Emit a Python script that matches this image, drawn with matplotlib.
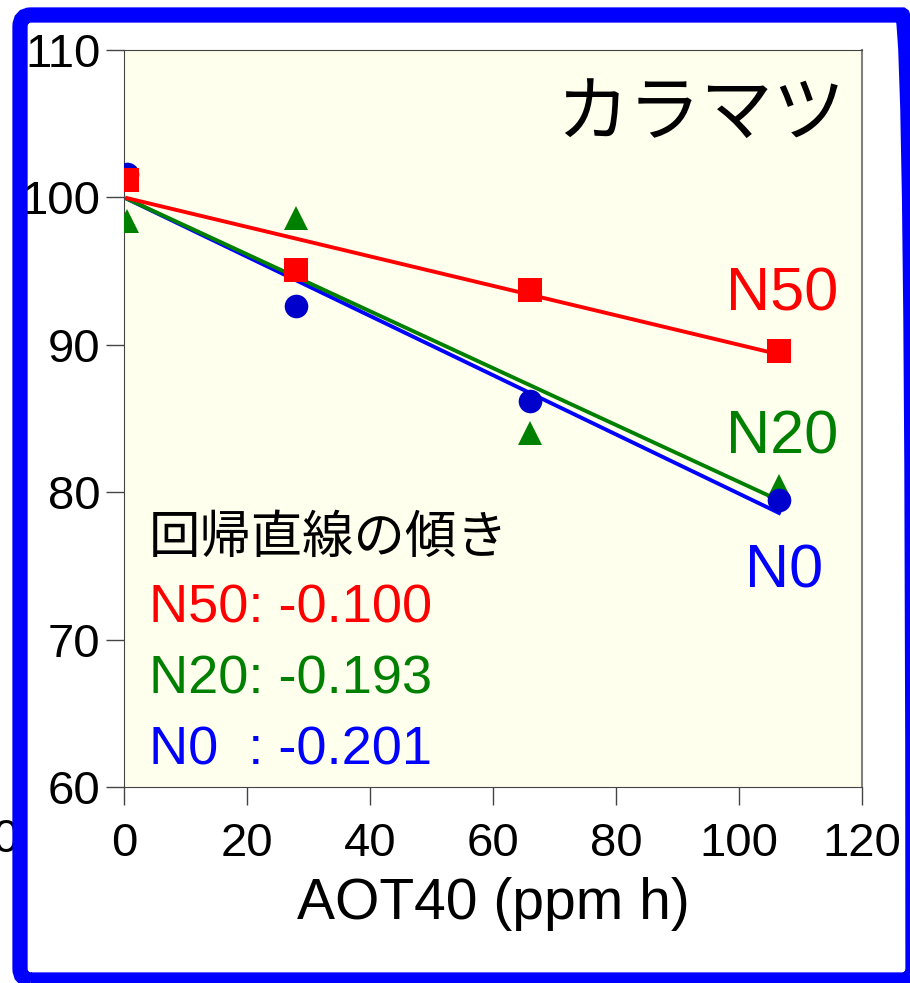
import numpy as np
import matplotlib
matplotlib.use("Agg")
from matplotlib import pyplot as plt
from matplotlib.patches import FancyBboxPatch

plt.rcParams['font.family'] = ['Liberation Sans', 'DejaVu Sans']
JP = ['Noto Sans CJK JP', 'DejaVu Sans']

# AOT40 (ppm h)
aot40 = [0.5, 28, 66, 106.5]

# 相対値 (%)
n0_vals = [101.6, 92.6, 86.2, 79.5]
n20_vals = [98.4, 98.6, 84.0, 80.4]
n50_vals = [101.2, 95.1, 93.7, 89.6]

# 回帰直線の傾き
slopes = {'N50': -0.100, 'N20': -0.193, 'N0': -0.201}

fig = plt.figure(figsize=(9.1, 9.83), dpi=100)
ax = fig.add_axes([124/910, 1 - 787/983, (862-124)/910, (787-50)/983])
ax.set_facecolor('#FFFFEE')

xs = np.array([aot40[0], aot40[-1]])
ax.plot(xs, 100 + slopes['N0'] * xs, color='#0000FF', lw=2.8, zorder=2)
ax.plot(xs, 100 + slopes['N20'] * xs, color='#008000', lw=2.8, zorder=2)
ax.plot(xs, 100 + slopes['N50'] * xs, color='#FF0000', lw=2.8, zorder=2)

# マーカー
ax.plot(aot40, n20_vals, '^', color='#008000', ms=17, mew=0, zorder=3)
ax.plot(aot40, n0_vals, 'o', color='#0000CC', ms=17, mew=0, zorder=4)
ax.plot(aot40, n50_vals, 's', color='#FF0000', ms=17, mew=0, zorder=5)

ax.set_xlim(0, 120)
ax.set_ylim(60, 110)
ax.set_xticks(np.arange(0, 121, 20))
ax.set_yticks(np.arange(60, 111, 10))
ax.tick_params(axis='y', direction='out', length=13, width=1, color='#444444',
               labelsize=34, pad=4)
ax.tick_params(axis='x', direction='out', length=13, width=1, color='#444444',
               labelsize=34, pad=12)
for s in ['left', 'bottom', 'top']:
    ax.spines[s].set_color('#444444')
ax.spines['right'].set_color('#808080')
ax.spines['right'].set_linewidth(1.5)

ax.set_xlabel('AOT40 (ppm h)', fontsize=41, labelpad=8)

ax.text(117.2, 105.6, 'カラマツ', family=JP, fontsize=52, ha='right', va='center')

ax.text(116.1, 93.4, 'N50', color='#FF0000', fontsize=44, ha='right', va='center')
ax.text(116.1, 83.7, 'N20', color='#008000', fontsize=44, ha='right', va='center')
ax.text(113.7, 74.6, 'N0', color='#0000FF', fontsize=44, ha='right', va='center')

ax.text(4.0, 76.9, '回帰直線の傾き', family=JP, fontsize=37, va='center')
ax.text(4.0, 72.1, 'N50: %.3f' % slopes['N50'], color='#FF0000', fontsize=39, va='center')
ax.text(4.0, 67.3, 'N20: %.3f' % slopes['N20'], color='#008000', fontsize=39, va='center')
ax.text(4.0, 62.5, 'N0  : %.3f' % slopes['N0'], color='#0000FF', fontsize=39, va='center')

# 左端の切れた「0」
fig.text(5/910, 1 - 840/983, '0', fontsize=34, ha='center', va='center')

# 青い枠
frame = FancyBboxPatch((20/910, 1 - 980/983), (913-20)/910, (980-15)/983,
                       boxstyle='round,pad=0,rounding_size=0.012',
                       transform=fig.transFigure, fill=False,
                       edgecolor='#0000FF', lw=11, zorder=10)
fig.patches.append(frame)

fig.savefig('out.png', dpi=100)
